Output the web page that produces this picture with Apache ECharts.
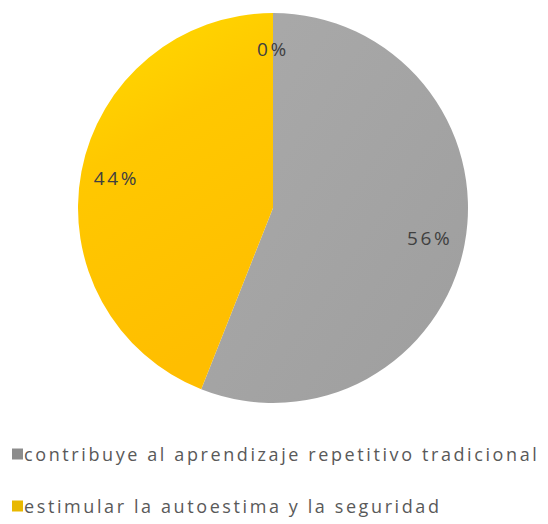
<!DOCTYPE html>
<html>
<head>
<meta charset="utf-8">
<script src="https://cdn.jsdelivr.net/npm/echarts@6/dist/echarts.min.js"></script>
<style>html,body{margin:0;padding:0;background:#fff}#c{width:548px;height:524px}#c svg text{letter-spacing:2.6px}</style>
</head>
<body>
<div id="c"></div>
<script>
var categories = ['contribuye al aprendizaje repetitivo tradicional', 'estimular la autoestima y la seguridad', 'otro'];
var values = [56, 44, 0];
var legendNames = ['contribuye al aprendizaje repetitivo tradicional', 'estimular la autoestima y la seguridad'];

var colors = [
  new echarts.graphic.LinearGradient(0, 0, 1, 1, [{offset: 0, color: '#AAAAAA'}, {offset: 1, color: '#9E9E9E'}]),
  new echarts.graphic.LinearGradient(0, 0, 0.3, 1, [{offset: 0, color: '#FFDC00'}, {offset: 0.4, color: '#FFC800'}, {offset: 1, color: '#FFBE00'}]),
  '#5B9BD5'
];
var legendColors = ['#8C8C8C', '#E8B800', '#5B9BD5'];

var data = categories.map(function (c, i) {
  return {name: c, value: values[i], itemStyle: {color: colors[i]}};
});
var labelData = categories.map(function (c, i) {
  return {name: c, value: values[i]};
});

var chart = echarts.init(document.getElementById('c'), null, {renderer: 'svg'});
chart.setOption({
  animation: false,
  legend: {
    data: legendNames.map(function (n, i) { return {name: n, itemStyle: {color: legendColors[i]}}; }),
    orient: 'vertical',
    left: 12,
    top: 445,
    padding: 0,
    height: 100,
    itemWidth: 11,
    itemHeight: 11,
    itemGap: 34,
    icon: 'rect',
    textStyle: {fontFamily: 'Open Sans', fontSize: 18, color: '#595959', padding: [0, 0, 0, -4]}
  },
  series: [
    {
      type: 'pie',
      center: [273, 208],
      radius: [0, 195],
      startAngle: 90,
      clockwise: true,
      silent: true,
      label: {show: false},
      labelLine: {show: false},
      itemStyle: {borderWidth: 0},
      data: data
    },
    {
      type: 'pie',
      center: [273, 208],
      radius: [118, 195],
      startAngle: 90,
      clockwise: true,
      silent: true,
      minShowLabelAngle: 0,
      itemStyle: {color: 'rgba(0,0,0,0)'},
      label: {
        show: true,
        position: 'inside',
        formatter: '{d}%',
        fontFamily: 'Open Sans',
        fontSize: 19,
        color: '#404040'
      },
      labelLine: {show: false},
      data: labelData
    }
  ]
});
</script>
</body>
</html>
